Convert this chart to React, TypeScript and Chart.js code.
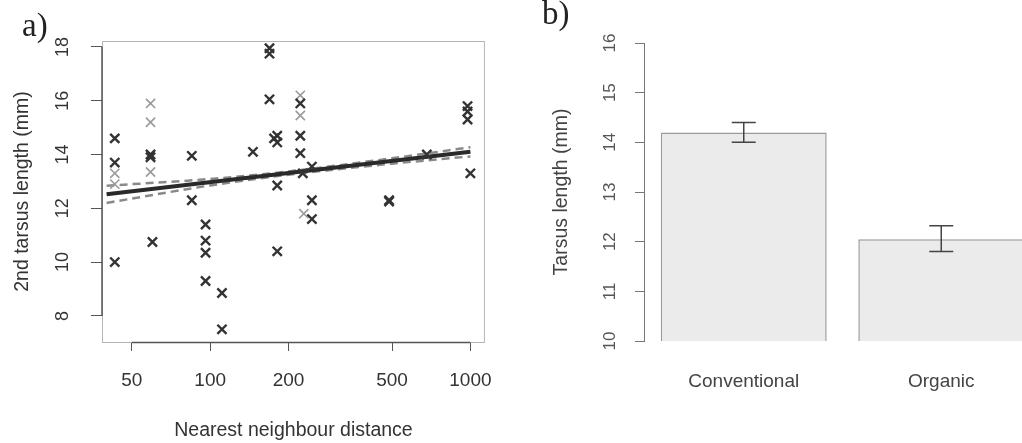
import { useEffect, useRef } from 'react';
import { Chart, registerables } from 'chart.js';

Chart.register(...registerables);

// ---------- Panel a: scatter ----------
const distTicks = [50, 100, 200, 500, 1000];
const tarsusTicksA = [8, 10, 12, 14, 16, 18];

const darkDist = [43, 43, 43, 59, 59, 60, 85, 85, 96, 96, 96, 96, 111, 111, 146, 169, 169, 169, 176, 181, 181, 181, 181, 222, 222, 222, 227, 246, 246, 246, 487, 487, 680, 975, 975, 975, 1000];
const darkTarsus = [14.6, 13.7, 10.0, 14.0, 13.9, 10.75, 13.95, 12.3, 11.4, 10.8, 10.35, 9.3, 8.85, 7.5, 14.1, 17.95, 17.75, 16.05, 14.6, 14.7, 14.45, 12.85, 10.4, 15.9, 14.7, 14.05, 13.3, 13.55, 12.3, 11.6, 12.25, 12.3, 14.0, 15.8, 15.6, 15.3, 13.3];

const lightDist = [43, 43, 59, 59, 59, 222, 222, 229];
const lightTarsus = [13.3, 12.9, 15.9, 15.2, 13.35, 16.2, 15.45, 11.8];

const fitDist = [40, 1000];
const fitTarsus = [12.52, 14.1];

const ciDist = [40, 100, 200, 300, 500, 1000];
const ciUpper = [12.84, 13.09, 13.37, 13.58, 13.86, 14.27];
const ciLower = [12.2, 12.85, 13.25, 13.44, 13.66, 13.93];

// ---------- Panel b: bars ----------
const groups = ['Conventional', 'Organic'];
const meanTarsus = [14.2, 12.05];
const errLow = [14.0, 11.8];
const errHigh = [14.4, 12.32];
const tarsusTicksB = [10, 11, 12, 13, 14, 15, 16];

const SANS = '"Liberation Sans", Arial, Helvetica, sans-serif';
const SERIF = '"Liberation Serif", "Times New Roman", serif';

const pts = (xs: number[], ys: number[]) => xs.map((x, i) => ({ x, y: ys[i] }));

function drawVerticalLabels(chart: any, values: number[], offset: number, size: number, color: string) {
  const ctx = chart.ctx;
  const y = chart.scales.y;
  const left = chart.chartArea.left;
  ctx.save();
  ctx.fillStyle = color;
  ctx.font = `${size}px ${SANS}`;
  ctx.textAlign = 'center';
  ctx.textBaseline = 'middle';
  values.forEach((v) => {
    ctx.save();
    ctx.translate(left - offset, y.getPixelForValue(v));
    ctx.rotate(-Math.PI / 2);
    ctx.fillText(String(v), 0, 0);
    ctx.restore();
  });
  ctx.restore();
}

const panelAPlugin = {
  id: 'panelA',
  beforeDatasetsDraw(chart: any) {
    const { ctx, chartArea } = chart;
    ctx.save();
    ctx.strokeStyle = '#b5b5b5';
    ctx.lineWidth = 1;
    ctx.strokeRect(chartArea.left + 0.5, chartArea.top + 0.5, chartArea.right - chartArea.left - 1, chartArea.bottom - chartArea.top);
    ctx.restore();
  },
  afterDraw(chart: any) {
    const { ctx, chartArea, scales } = chart;
    ctx.save();
    ctx.strokeStyle = '#555';
    ctx.lineWidth = 1.5;
    ctx.beginPath();
    ctx.moveTo(chartArea.left, scales.y.getPixelForValue(tarsusTicksA[0]));
    ctx.lineTo(chartArea.left, scales.y.getPixelForValue(tarsusTicksA[tarsusTicksA.length - 1]));
    ctx.moveTo(scales.x.getPixelForValue(distTicks[0]), chartArea.bottom + 0.5);
    ctx.lineTo(scales.x.getPixelForValue(distTicks[distTicks.length - 1]), chartArea.bottom + 0.5);
    ctx.stroke();
    ctx.restore();
    drawVerticalLabels(chart, tarsusTicksA, 39, 18, '#333');
    ctx.save();
    ctx.fillStyle = '#222';
    ctx.font = `33px ${SERIF}`;
    ctx.textBaseline = 'alphabetic';
    ctx.fillText('a)', 22, 36);
    ctx.restore();
  },
};

const panelBPlugin = {
  id: 'panelB',
  afterDatasetsDraw(chart: any) {
    const { ctx, scales } = chart;
    const meta = chart.getDatasetMeta(0);
    ctx.save();
    ctx.strokeStyle = '#444';
    ctx.lineWidth = 1.5;
    meta.data.forEach((bar: any, i: number) => {
      const x = bar.x;
      const yl = scales.y.getPixelForValue(errLow[i]);
      const yh = scales.y.getPixelForValue(errHigh[i]);
      ctx.beginPath();
      ctx.moveTo(x, yl);
      ctx.lineTo(x, yh);
      ctx.moveTo(x - 12, yl);
      ctx.lineTo(x + 12, yl);
      ctx.moveTo(x - 12, yh);
      ctx.lineTo(x + 12, yh);
      ctx.stroke();
    });
    ctx.restore();
  },
  afterDraw(chart: any) {
    const { ctx, chartArea, scales } = chart;
    ctx.save();
    ctx.strokeStyle = '#777';
    ctx.lineWidth = 1;
    ctx.beginPath();
    ctx.moveTo(chartArea.left - 0.5, scales.y.getPixelForValue(tarsusTicksB[0]));
    ctx.lineTo(chartArea.left - 0.5, scales.y.getPixelForValue(tarsusTicksB[tarsusTicksB.length - 1]));
    ctx.stroke();
    ctx.restore();
    drawVerticalLabels(chart, tarsusTicksB, 35, 17, '#555');
    ctx.save();
    ctx.fillStyle = '#222';
    ctx.font = `33px ${SERIF}`;
    ctx.textBaseline = 'alphabetic';
    ctx.fillText('b)', 32, 24);
    ctx.restore();
  },
};

function PanelA() {
  const ref = useRef<HTMLCanvasElement>(null);
  useEffect(() => {
    const chart = new Chart(ref.current as HTMLCanvasElement, {
      type: 'scatter',
      data: {
        datasets: [
          {
            data: pts(darkDist, darkTarsus),
            pointStyle: 'crossRot',
            pointRadius: 6.5,
            borderColor: '#333',
            backgroundColor: '#333',
            pointBorderWidth: 2.4,
          },
          {
            data: pts(lightDist, lightTarsus),
            pointStyle: 'crossRot',
            pointRadius: 6.5,
            borderColor: '#9a9a9a',
            backgroundColor: '#9a9a9a',
            pointBorderWidth: 1.6,
          },
          {
            data: pts(fitDist, fitTarsus),
            showLine: true,
            pointRadius: 0,
            borderColor: '#2a2a2a',
            borderWidth: 4,
          },
          {
            data: pts(ciDist, ciUpper),
            showLine: true,
            pointRadius: 0,
            borderColor: '#8a8a8a',
            borderWidth: 2.5,
            borderDash: [8, 5],
            cubicInterpolationMode: 'monotone',
          },
          {
            data: pts(ciDist, ciLower),
            showLine: true,
            pointRadius: 0,
            borderColor: '#8a8a8a',
            borderWidth: 2.5,
            borderDash: [8, 5],
            cubicInterpolationMode: 'monotone',
          },
        ] as any,
      },
      options: {
        animation: false,
        responsive: false,
        maintainAspectRatio: false,
        devicePixelRatio: 1,
        layout: { padding: { top: 41, right: 12, left: 0, bottom: 0 } },
        plugins: { legend: { display: false }, tooltip: { enabled: false } },
        scales: {
          x: {
            type: 'logarithmic',
            min: 38.4,
            max: 1137,
            afterBuildTicks: (s: any) => {
              s.ticks = distTicks.map((v) => ({ value: v }));
            },
            afterFit: (s: any) => {
              s.height = 101;
            },
            ticks: {
              callback: (v: any) => String(v),
              font: { family: SANS, size: 19 },
              color: '#333',
              padding: 18,
              autoSkip: false,
              maxRotation: 0,
            },
            grid: { drawOnChartArea: false, drawTicks: true, tickLength: 9, color: '#555' },
            border: { display: false },
            title: {
              display: true,
              text: 'Nearest neighbour distance',
              font: { family: SANS, size: 19.5 },
              color: '#333',
              padding: { top: 0, bottom: 1 },
            },
          },
          y: {
            type: 'linear',
            min: 7.03,
            max: 18.22,
            afterBuildTicks: (s: any) => {
              s.ticks = tarsusTicksA.map((v) => ({ value: v }));
            },
            afterFit: (s: any) => {
              s.width = 102;
            },
            ticks: { display: false },
            grid: { drawOnChartArea: false, drawTicks: true, tickLength: 11, color: '#555' },
            border: { display: false },
            title: {
              display: true,
              text: '2nd tarsus length (mm)',
              font: { family: SANS, size: 19.5 },
              color: '#333',
              padding: { top: 11, bottom: 0 },
            },
          },
        },
      } as any,
      plugins: [panelAPlugin],
    });
    return () => chart.destroy();
  }, []);
  return (
    <canvas
      ref={ref}
      width={510}
      height={443}
      style={{ position: 'absolute', left: 0, top: 0, width: 510, height: 443 }}
    />
  );
}

function PanelB() {
  const ref = useRef<HTMLCanvasElement>(null);
  useEffect(() => {
    const chart = new Chart(ref.current as HTMLCanvasElement, {
      type: 'bar',
      data: {
        labels: groups,
        datasets: [
          {
            data: meanTarsus,
            backgroundColor: '#ebebeb',
            borderColor: '#9a9a9a',
            borderWidth: 1.5,
            categoryPercentage: 1,
            barPercentage: 0.84,
          },
        ],
      },
      options: {
        animation: false,
        responsive: false,
        maintainAspectRatio: false,
        devicePixelRatio: 1,
        layout: { padding: { top: 43, right: 10, left: 0, bottom: 0 } },
        plugins: { legend: { display: false }, tooltip: { enabled: false } },
        scales: {
          x: {
            grid: { display: false, drawTicks: false },
            border: { display: false },
            ticks: { font: { family: SANS, size: 19 }, color: '#444', padding: 29, maxRotation: 0 },
            afterFit: (s: any) => {
              s.height = 102;
            },
          },
          y: {
            min: 10,
            max: 16,
            afterBuildTicks: (s: any) => {
              s.ticks = tarsusTicksB.map((v) => ({ value: v }));
            },
            afterFit: (s: any) => {
              s.width = 135;
            },
            ticks: { display: false },
            grid: { drawOnChartArea: false, drawTicks: true, tickLength: 10, color: '#777' },
            border: { display: false },
            title: {
              display: true,
              text: 'Tarsus length (mm)',
              font: { family: SANS, size: 19.5 },
              color: '#444',
              padding: { top: 40, bottom: 0 },
            },
          },
        },
      } as any,
      plugins: [panelBPlugin],
    });
    return () => chart.destroy();
  }, []);
  return (
    <canvas
      ref={ref}
      width={540}
      height={443}
      style={{ position: 'absolute', left: 510, top: 0, width: 540, height: 443 }}
    />
  );
}

export default function App() {
  return (
    <div
      style={{
        position: 'absolute',
        left: 0,
        top: 0,
        width: 1022,
        height: 443,
        overflow: 'hidden',
        background: '#fff',
      }}
    >
      <PanelA />
      <PanelB />
    </div>
  );
}
